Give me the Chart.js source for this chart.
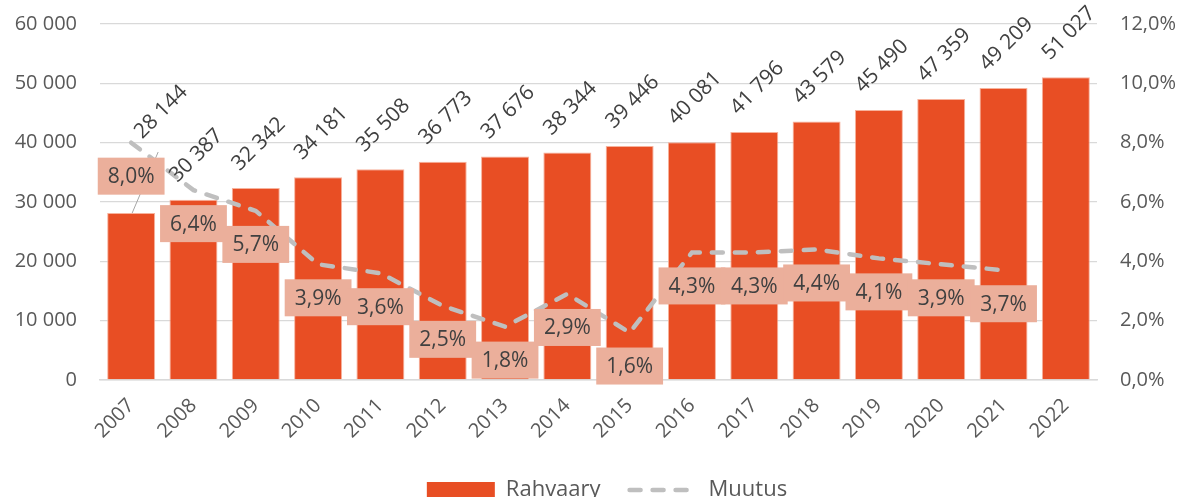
<!DOCTYPE html>
<html>
<head>
<meta charset="utf-8">
<script src="https://cdn.jsdelivr.net/npm/chart.js@4"></script>
<style>
  html, body { margin: 0; padding: 0; background: #ffffff; overflow: hidden; }
  #wrap { width: 1182px; height: 511px; position: relative; }
</style>
</head>
<body>
<div id="wrap"><canvas id="c" width="1182" height="511"></canvas></div>
<script>
// ---- data ----
const years = ['2007','2008','2009','2010','2011','2012','2013','2014','2015','2016','2017','2018','2019','2020','2021','2022'];
const population = [28144, 30387, 32342, 34181, 35508, 36773, 37676, 38344, 39446, 40081, 41796, 43579, 45490, 47359, 49209, 51027];
const changePct = [8.0, 6.4, 5.7, 3.9, 3.6, 2.5, 1.8, 2.9, 1.6, 4.3, 4.3, 4.4, 4.1, 3.9, 3.7, null];
const seriesNames = ['Rahvaary', 'Muutus'];
const leftTicks = [0, 10000, 20000, 30000, 40000, 50000, 60000];
const rightTicks = [0, 2, 4, 6, 8, 10, 12];

// ---- styles ----
const FONT = "'Open Sans', 'Noto Sans', sans-serif";
const BAR_COLOR = '#E84E24';
const LINE_COLOR = '#BFBFBF';
const LABEL_BOX = '#EBAF9B';
const DARK_TEXT = '#404040';
const AXIS_TEXT = '#595959';
const GRID = '#D9D9D9';
const DASH = [11, 12];

const fmtThousands = v => String(Math.round(v)).replace(/\B(?=(\d{3})+(?!\d))/g, ' ');
const fmtPct = v => v.toFixed(1).replace('.', ',') + '%';

const labelsPlugin = {
  id: 'customLabels',
  afterLayout(chart) {
    if (chart.legend) { chart.legend.left += 16; chart.legend.right += 16; }
  },
  afterDatasetsDraw(chart) {
    const ctx = chart.ctx;
    // bar value labels, rotated
    const barMeta = chart.getDatasetMeta(0);
    ctx.save();
    ctx.font = '21px ' + FONT;
    ctx.fillStyle = DARK_TEXT;
    ctx.textAlign = 'center';
    ctx.textBaseline = 'middle';
    barMeta.data.forEach((el, i) => {
      let cx = el.x + 3, cy = el.y - 44;
      if (i === 0) {
        // moved label with leader line
        cx = el.x + 30; cy = el.y - 101;
        ctx.save();
        ctx.strokeStyle = '#A6A6A6';
        ctx.lineWidth = 1;
        ctx.beginPath();
        ctx.moveTo(el.x + 1, el.y);
        ctx.lineTo(el.x + 27, el.y - 61);
        ctx.stroke();
        ctx.restore();
      }
      ctx.save();
      ctx.translate(cx, cy);
      ctx.rotate(-Math.PI / 4);
      ctx.fillText(fmtThousands(population[i]), 0, 0);
      ctx.restore();
    });
    ctx.restore();

    // line value labels in boxes, below points
    const lineMeta = chart.getDatasetMeta(1);
    ctx.save();
    ctx.font = '21px ' + FONT;
    ctx.textAlign = 'center';
    ctx.textBaseline = 'middle';
    lineMeta.data.forEach((el, i) => {
      const v = changePct[i];
      if (v === null || el.skip) return;
      const txt = fmtPct(v);
      const w = ctx.measureText(txt).width + 20;
      const h = 37;
      const cx = el.x, cy = el.y + 33.5;
      ctx.fillStyle = LABEL_BOX;
      ctx.fillRect(cx - w / 2, cy - h / 2, w, h);
      ctx.fillStyle = DARK_TEXT;
      ctx.fillText(txt, cx, cy + 1);
    });
    ctx.restore();
  }
};

new Chart(document.getElementById('c'), {
  data: {
    labels: years,
    datasets: [
      {
        type: 'bar',
        label: seriesNames[0],
        data: population,
        yAxisID: 'y',
        backgroundColor: BAR_COLOR,
        borderColor: 'rgba(246, 170, 145, 0.9)',
        borderWidth: 1,
        barPercentage: 0.77,
        categoryPercentage: 1.0,
        order: 2
      },
      {
        type: 'line',
        label: seriesNames[1],
        data: changePct,
        yAxisID: 'y1',
        borderColor: LINE_COLOR,
        borderWidth: 4.5,
        borderDash: DASH,
        borderCapStyle: 'round',
        pointRadius: 0,
        pointHoverRadius: 0,
        tension: 0,
        fill: false,
        spanGaps: false,
        order: 1
      }
    ]
  },
  options: {
    responsive: false,
    devicePixelRatio: 1,
    animation: false,
    layout: { padding: { top: 24, left: 0, right: 0, bottom: 0 } },
    plugins: {
      tooltip: { enabled: false },
      legend: {
        position: 'bottom',
        labels: {
          usePointStyle: true,
          pointStyleWidth: 68,
          boxHeight: 16,
          padding: 29,
          color: AXIS_TEXT,
          font: { family: FONT, size: 22 },
          generateLabels: () => [
            { text: seriesNames[0], fillStyle: BAR_COLOR, strokeStyle: BAR_COLOR, lineWidth: 0,
              pointStyle: 'rect', datasetIndex: 0, fontColor: AXIS_TEXT, hidden: false },
            { text: seriesNames[1], fillStyle: 'rgba(0,0,0,0)', strokeStyle: LINE_COLOR, lineWidth: 4.5,
              lineDash: DASH, lineCap: 'round', pointStyle: 'line', datasetIndex: 1, fontColor: AXIS_TEXT, hidden: false }
          ]
        }
      }
    },
    scales: {
      x: {
        position: 'bottom',
        grid: { display: false, drawTicks: false },
        border: { display: true, color: GRID, width: 1.5 },
        ticks: {
          color: AXIS_TEXT,
          font: { family: FONT, size: 20 },
          maxRotation: 45,
          minRotation: 45,
          padding: 14,
          autoSkip: false
        },
        afterFit(scale) { scale.height = 70; }
      },
      y: {
        position: 'left',
        min: 0,
        max: 60000,
        afterBuildTicks(scale) { scale.ticks = leftTicks.map(v => ({ value: v })); },
        grid: { color: GRID, lineWidth: 1.3, drawTicks: false },
        border: { display: false },
        ticks: {
          color: AXIS_TEXT,
          font: { family: FONT, size: 20 },
          padding: 23,
          callback: v => fmtThousands(v)
        },
        afterFit(scale) { scale.width = 100; scale.paddingTop = 0; scale.paddingBottom = 0; }
      },
      y1: {
        position: 'right',
        min: 0,
        max: 12,
        afterBuildTicks(scale) { scale.ticks = rightTicks.map(v => ({ value: v })); },
        grid: { display: false, drawTicks: false },
        border: { display: false },
        ticks: {
          color: AXIS_TEXT,
          font: { family: FONT, size: 20 },
          padding: 23,
          callback: v => fmtPct(v)
        },
        afterFit(scale) { scale.width = 85; scale.paddingTop = 0; scale.paddingBottom = 0; }
      }
    }
  },
  plugins: [labelsPlugin]
});
</script>
</body>
</html>
